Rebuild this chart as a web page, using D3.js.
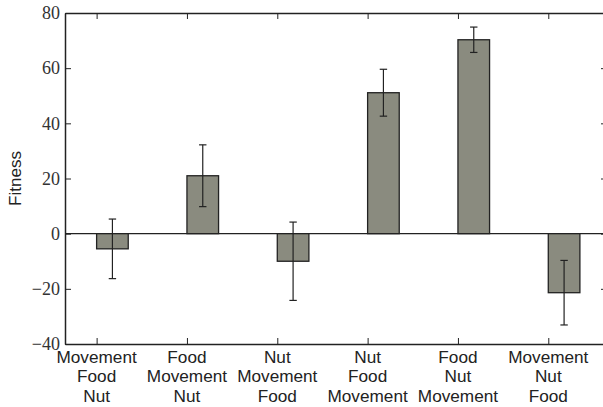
<!DOCTYPE html>
<html>
<head>
<meta charset="utf-8">
<script src="https://cdn.jsdelivr.net/npm/d3@7"></script>
<style>
body { margin: 0; background: #fff; }
svg { display: block; overflow: hidden; }
</style>
</head>
<body>
<script>
const categories = [
  ['Movement', 'Food', 'Nut'],
  ['Food', 'Movement', 'Nut'],
  ['Nut', 'Movement', 'Food'],
  ['Nut', 'Food', 'Movement'],
  ['Food', 'Nut', 'Movement'],
  ['Movement', 'Nut', 'Food']
];
const fitness = [-5.5, 21.0, -10.0, 51.1, 70.3, -21.4];
const errors = [10.8, 11.2, 14.2, 8.5, 4.6, 11.7];
const yTicks = [-40, -20, 0, 20, 40, 60, 80];

const w = 603, h = 407;
const pLeft = 65, pRight = 607, pTop = 13, pBottom = 344;
const barW = 0.35;
const ink = '#222';

const svg = d3.select('body').append('svg').attr('width', w).attr('height', h);

const x = d3.scaleLinear().domain([-0.35, 5.65]).range([pLeft, pRight]);
const y = d3.scaleLinear().domain([-40, 80]).range([pBottom, pTop]);

// zero line
svg.append('line')
  .attr('x1', pLeft).attr('x2', pRight)
  .attr('y1', y(0)).attr('y2', y(0))
  .attr('stroke', ink).attr('stroke-width', 1.2);

// bars
svg.selectAll('.bar').data(fitness).enter()
  .append('rect')
  .attr('class', 'bar')
  .attr('x', (d, i) => x(i))
  .attr('width', (d, i) => x(i + barW) - x(i))
  .attr('y', d => y(Math.max(0, d)))
  .attr('height', d => Math.abs(y(d) - y(0)))
  .attr('fill', '#8a8b7f')
  .attr('stroke', ink)
  .attr('stroke-width', 1.3);

// error bars
const eb = svg.selectAll('.err').data(fitness).enter().append('g').attr('class', 'err')
  .attr('stroke', ink).attr('stroke-width', 1.2);
eb.append('line')
  .attr('x1', (d, i) => x(i + barW / 2)).attr('x2', (d, i) => x(i + barW / 2))
  .attr('y1', (d, i) => y(d + errors[i])).attr('y2', (d, i) => y(d - errors[i]));
eb.append('line')
  .attr('x1', (d, i) => x(i + barW / 2) - 3.7).attr('x2', (d, i) => x(i + barW / 2) + 3.7)
  .attr('y1', (d, i) => y(d + errors[i])).attr('y2', (d, i) => y(d + errors[i]));
eb.append('line')
  .attr('x1', (d, i) => x(i + barW / 2) - 3.7).attr('x2', (d, i) => x(i + barW / 2) + 3.7)
  .attr('y1', (d, i) => y(d - errors[i])).attr('y2', (d, i) => y(d - errors[i]));

// axes (ticks inward)
const fmt = d => d < 0 ? '\u2212' + Math.abs(d) : String(d);
const leftAxis = svg.append('g').attr('transform', 'translate(' + pLeft + ',0)')
  .call(d3.axisLeft(y).tickValues(yTicks).tickFormat(fmt).tickSizeInner(-6).tickSizeOuter(0).tickPadding(5));
const rightAxis = svg.append('g').attr('transform', 'translate(' + pRight + ',0)')
  .call(d3.axisRight(y).tickValues(yTicks).tickFormat('').tickSizeInner(-6).tickSizeOuter(0));
const bottomAxis = svg.append('g').attr('transform', 'translate(0,' + pBottom + ')')
  .call(d3.axisBottom(x).tickValues(d3.range(6)).tickFormat('').tickSizeInner(-6).tickSizeOuter(0));
const topAxis = svg.append('g').attr('transform', 'translate(0,' + pTop + ')')
  .call(d3.axisTop(x).tickValues(d3.range(6)).tickFormat('').tickSizeInner(-6).tickSizeOuter(0));

[leftAxis, rightAxis, bottomAxis, topAxis].forEach(a => {
  a.select('.domain').attr('stroke', ink).attr('stroke-width', 1.5);
  a.selectAll('.tick line').attr('stroke', ink).attr('stroke-width', 1);
});
leftAxis.attr('font-family', 'Liberation Serif').attr('font-size', 18);
leftAxis.selectAll('.tick text')
  .attr('font-family', 'Liberation Serif')
  .attr('font-size', 18)
  .attr('fill', '#333');

// category labels
const cat = svg.selectAll('.cat').data(categories).enter()
  .append('text')
  .attr('class', 'cat')
  .attr('text-anchor', 'middle')
  .attr('font-family', 'Liberation Sans')
  .attr('font-size', 17.2)
  .attr('fill', '#222');
cat.selectAll('tspan').data((d, i) => d.map(t => ({ t: t, i: i }))).enter()
  .append('tspan')
  .attr('x', d => x(d.i))
  .attr('y', (d, j) => 363 + j * 19.3)
  .text(d => d.t);

// y label
svg.append('text')
  .attr('text-anchor', 'middle')
  .attr('transform', 'translate(21,' + ((pTop + pBottom) / 2) + ') rotate(-90)')
  .attr('font-family', 'Liberation Sans')
  .attr('font-size', 17)
  .attr('fill', '#222')
  .text('Fitness');
</script>
</body>
</html>
